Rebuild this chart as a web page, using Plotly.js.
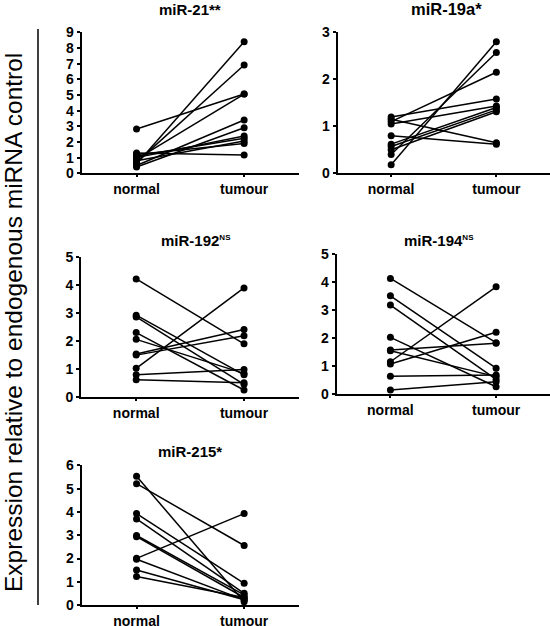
<!DOCTYPE html>
<html>
<head>
<meta charset="utf-8">
<script src="https://cdn.plot.ly/plotly-3.0.1.min.js"></script>
<style>html,body{margin:0;padding:0;background:#fff;}#chart{width:550px;height:626px;}</style>
</head>
<body>
<div id="chart"></div>
<script>
// ---- data ----
var categories = ['normal', 'tumour'];

var mir21Normal = [2.83, 0.60, 0.70, 0.90, 0.50, 0.40, 1.00, 1.10, 0.80, 1.20, 1.30];
var mir21Tumour = [5.06, 8.40, 6.91, 5.06, 3.40, 2.91, 2.38, 2.23, 2.06, 1.91, 1.17];

var mir19aNormal = [0.18, 0.40, 1.10, 1.20, 1.05, 1.15, 0.80, 0.62, 0.57, 0.50];
var mir19aTumour = [2.80, 2.57, 2.15, 1.58, 1.43, 0.65, 0.62, 1.40, 1.35, 1.31];

var mir192Normal = [4.21, 1.03, 1.54, 1.50, 2.92, 2.86, 2.30, 2.06, 0.80, 0.62];
var mir192Tumour = [1.90, 3.89, 2.41, 2.19, 0.80, 0.46, 0.26, 0.85, 0.99, 0.52];

var mir194Normal = [4.13, 3.51, 3.18, 2.03, 1.58, 1.55, 1.16, 1.08, 0.64, 0.15];
var mir194Tumour = [1.84, 0.93, 0.53, 0.27, 1.82, 0.63, 3.83, 2.21, 0.69, 0.45];

var mir215Normal = [5.53, 5.21, 3.93, 3.70, 2.99, 2.94, 2.01, 1.97, 1.51, 1.23];
var mir215Tumour = [0.15, 2.56, 0.94, 0.51, 0.44, 0.33, 3.93, 0.23, 0.23, 0.33];

var panelTitles = ['miR-21**', 'miR-19a*', 'miR-192<sup>NS</sup>', 'miR-194<sup>NS</sup>', 'miR-215*'];
var yMax = [9, 3, 5, 5, 6];
var yTitle = 'Expression relative to endogenous miRNA control';

// ---- build ----
var W = 550, H = 626;
var panels = [
  {n: mir21Normal,  t: mir21Tumour,  x0: 81.7, x1: 299, yb: 173.3, yt: 32.3,  tx: 190, ty: 9,   ts: 15},
  {n: mir19aNormal, t: mir19aTumour, x0: 337.5, x1: 550, yb: 173.3, yt: 32.3,  tx: 446, ty: 9,   ts: 16.5},
  {n: mir192Normal, t: mir192Tumour, x0: 81.2, x1: 299, yb: 397.3, yt: 256.7, tx: 196, ty: 240, ts: 15},
  {n: mir194Normal, t: mir194Tumour, x0: 336.5, x1: 550, yb: 394.3, yt: 254,   tx: 439, ty: 240, ts: 15},
  {n: mir215Normal, t: mir215Tumour, x0: 81.7, x1: 299, yb: 605.2, yt: 465.3, tx: 190, ty: 451, ts: 15}
];

var font = 'Liberation Sans, Arial, sans-serif';
var traces = [];
var layout = {
  width: W, height: H,
  margin: {l: 0, r: 0, t: 0, b: 0},
  paper_bgcolor: '#fff', plot_bgcolor: '#fff',
  showlegend: false,
  font: {family: font, color: '#000'},
  annotations: [],
  shapes: []
};

panels.forEach(function (p, k) {
  var ax = k === 0 ? '' : String(k + 1);
  for (var i = 0; i < p.n.length; i++) {
    traces.push({
      type: 'scatter', mode: 'lines+markers',
      x: categories.slice(), y: [p.n[i], p.t[i]],
      xaxis: 'x' + ax, yaxis: 'y' + ax,
      line: {color: '#000', width: 1.5},
      marker: {color: '#000', size: 7},
      hoverinfo: 'skip', cliponaxis: false
    });
  }
  var common = {
    showline: true, linecolor: '#000', linewidth: 2,
    ticks: 'outside', tickwidth: 2, tickcolor: '#000',
    showgrid: false, zeroline: false,
    tickfont: {family: font, size: 14, color: '#000', weight: 'bold'}
  };
  layout['xaxis' + ax] = Object.assign({}, common, {
    domain: [p.x0 / W, p.x1 / W],
    anchor: 'y' + ax, ticklen: 2,
    type: 'category', categoryarray: categories,
    range: [-0.51, 1.51], fixedrange: true
  });
  layout['yaxis' + ax] = Object.assign({}, common, {
    domain: [1 - p.yb / H, 1 - p.yt / H],
    anchor: 'x' + ax, ticklen: 3,
    range: [0, yMax[k]], dtick: 1, tick0: 0, fixedrange: true
  });
  layout.annotations.push({
    xref: 'paper', yref: 'paper', x: p.tx / W, y: 1 - p.ty / H,
    xanchor: 'center', yanchor: 'middle', showarrow: false,
    text: panelTitles[k].replace('<sup>NS</sup>', '<sup><span style="font-size:8px">NS</span></sup>'),
    font: {family: font, size: p.ts, color: '#000', weight: 'bold'}
  });
});

layout.annotations.push({
  xref: 'paper', yref: 'paper', x: 13 / W, y: 1 - 323 / H,
  xanchor: 'center', yanchor: 'middle', showarrow: false,
  textangle: -90, text: yTitle,
  font: {family: font, size: 24.5, color: '#000'}
});
layout.shapes.push({
  type: 'line', xref: 'paper', yref: 'paper',
  x0: 38 / W, x1: 38 / W, y0: 1 - 29 / H, y1: 1 - 605 / H,
  line: {color: '#000', width: 1.5}
});

Plotly.newPlot('chart', traces, layout, {staticPlot: true, displayModeBar: false});
</script>
</body>
</html>
